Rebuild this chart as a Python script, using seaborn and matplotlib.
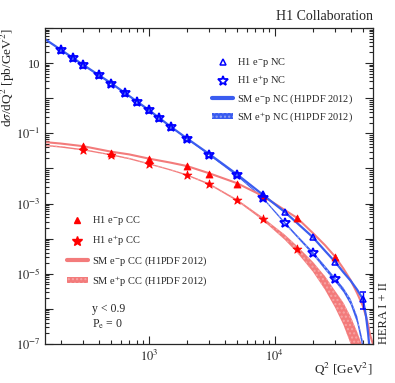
import numpy as np
import pandas as pd
import matplotlib
matplotlib.use("Agg")
import matplotlib.pyplot as plt
import seaborn as sns
from matplotlib.lines import Line2D
from matplotlib.patches import Patch
from matplotlib.ticker import FixedLocator, LogLocator, NullFormatter, FuncFormatter

# H1 data points, Q2 in GeV^2, dsigma/dQ2 in pb/GeV^2
q2_nc = [200, 250, 300, 400, 500, 650, 800, 1000, 1200, 1500, 2000, 3000, 5000, 8000, 12000, 20000, 30000]
nc_ep_minus = [23.8, 13.8, 8.9, 4.55, 2.66, 1.38, 0.79, 0.46, 0.28, 0.153, 0.072, 0.026, 0.0068, 1.85e-3, 5.8e-4, 1.1e-4, 2.2e-5]
nc_ep_plus = [23.5, 13.6, 8.8, 4.5, 2.6, 1.36, 0.78, 0.45, 0.27, 0.150, 0.070, 0.0246, 0.0063, 1.45e-3, 2.8e-4, 3.9e-5, 6.9e-6]
q2_nc_last = [50000]
nc_ep_minus_last = [1.9e-6]
nc_ep_minus_last_lo = [0.9e-6]
nc_ep_minus_last_hi = [1.2e-6]

q2_cc_minus = [300, 500, 1000, 2000, 3000, 5000, 8000, 15000, 30000]
cc_ep_minus = [0.0425, 0.028, 0.019, 0.0116, 0.0071, 3.66e-3, 1.6e-3, 3.8e-4, 3.06e-5]
q2_cc_plus = [300, 500, 1000, 2000, 3000, 5000, 8000, 15000]
cc_ep_plus = [0.034, 0.024, 0.0133, 6.3e-3, 3.5e-3, 1.22e-3, 3.65e-4, 4.9e-5]

# SM (H1PDF 2012) predictions
q2_sm = [150, 200, 300, 500, 700, 1000, 1500, 2000, 3000, 5000, 8000, 12000, 15000, 20000,
         25000, 30000, 35000, 40000, 45000, 50000, 53000, 55000, 57000, 60000]
sm_nc_minus = [48, 24, 9.0, 2.7, 1.15, 0.46, 0.152, 0.072, 0.026, 0.0068, 1.8e-3, 5.7e-4, 2.8e-4, 1.1e-4,
               4.5e-5, 2.2e-5, 1.1e-5, 6.3e-6, 3.5e-6, 1.9e-6, 6e-7, 2e-7, 5e-8, 1e-8]
sm_nc_plus_hi = [50, 24.5, 9.0, 2.72, 1.15, 0.462, 0.153, 0.072, 0.0253, 0.0066, 1.53e-3, 3.0e-4, 1.27e-4, 4.3e-5,
                 1.7e-5, 7.8e-6, 4.0e-6, 1.9e-6, 6.2e-7, 1.2e-7, 3e-8, 1e-8, 1e-8, 1e-8]
sm_nc_plus_lo = [46, 23.2, 8.6, 2.58, 1.09, 0.438, 0.145, 0.068, 0.0237, 0.0060, 1.38e-3, 2.6e-4, 1.08e-4, 3.5e-5,
                 1.3e-5, 6.0e-6, 3.0e-6, 1.3e-6, 4e-7, 7e-8, 2e-8, 1e-8, 1e-8, 1e-8]
sm_cc_minus = [0.056, 0.051, 0.043, 0.030, 0.025, 0.019, 0.0145, 0.0117, 0.0073, 3.8e-3, 1.65e-3, 6.5e-4, 3.9e-4, 1.45e-4,
               6.5e-5, 3.1e-5, 1.4e-5, 6.5e-6, 2.8e-6, 1.2e-6, 6e-7, 3.5e-7, 1.8e-7, 1e-7]
sm_cc_plus_hi = [0.047, 0.043, 0.0355, 0.0256, 0.0199, 0.0141, 0.0094, 0.0068, 0.0038, 1.33e-3, 4.05e-4, 1.3e-4, 6.2e-5, 2.2e-5,
                 8.5e-6, 3.3e-6, 1.5e-6, 6e-7, 2.2e-7, 8e-8, 3e-8, 1e-8, 1e-8, 1e-8]
sm_cc_plus_lo = [0.043, 0.039, 0.0325, 0.0234, 0.0181, 0.0129, 0.0086, 0.0062, 0.0034, 1.17e-3, 3.35e-4, 9.2e-5, 4.0e-5, 1.15e-5,
                 3.5e-6, 1.1e-6, 3.5e-7, 1e-7, 3e-8, 1e-8, 1e-8, 1e-8, 1e-8, 1e-8]

blue = "#0000ff"
blue_line = "#3a5cf0"
red = "#ff0000"
red_line = "#f37b7b"

sns.set_style("ticks")
plt.rcParams["font.family"] = ["Liberation Serif", "DejaVu Serif"]
plt.rcParams["mathtext.fontset"] = "stix"

fig = plt.figure(figsize=(3.95, 3.83), dpi=100)
ax = fig.add_axes([0.114, 0.102, 0.830, 0.825])
ax.set_xscale("log")
ax.set_yscale("log")

df_sm = pd.DataFrame({"q2": q2_sm, "nc_m": sm_nc_minus, "cc_m": sm_cc_minus})

# SM bands for e+p and lines for e-p
ax.fill_between(q2_sm, sm_cc_plus_lo, sm_cc_plus_hi, facecolor=red_line, edgecolor="#f7a5a5",
                hatch="....", linewidth=0, zorder=2)
ax.fill_between(q2_sm, sm_nc_plus_lo, sm_nc_plus_hi, facecolor=blue_line, edgecolor="#8fa2f5",
                hatch="....", linewidth=0, zorder=2)
sns.lineplot(data=df_sm, x="q2", y="cc_m", color=red_line, lw=1.5, ax=ax, zorder=2)
sns.lineplot(data=df_sm, x="q2", y="nc_m", color=blue_line, lw=1.6, ax=ax, zorder=2)

# data points
sns.scatterplot(x=q2_cc_minus, y=cc_ep_minus, marker="^", s=26, color=red, edgecolor=red,
                linewidth=0.5, ax=ax, zorder=4)
sns.scatterplot(x=q2_cc_plus, y=cc_ep_plus, marker="*", s=45, color=red, edgecolor=red,
                linewidth=0.5, ax=ax, zorder=4)
ax.plot(q2_nc, nc_ep_plus, ls="none", marker="*", ms=7, mfc="none", mec=blue, mew=1.3, zorder=5)
ax.plot(q2_nc, nc_ep_minus, ls="none", marker="^", ms=5, mfc="none", mec=blue, mew=1.1, zorder=5)
ax.errorbar(q2_nc_last, nc_ep_minus_last, yerr=[nc_ep_minus_last_lo, nc_ep_minus_last_hi], fmt="^",
            ms=5, mfc="none", mec=blue, mew=1.1, ecolor=blue, elinewidth=1, capsize=2, zorder=5)

ax.set_xlim(150, 60000)
ax.set_ylim(1e-7, 1e2)

ax.xaxis.set_major_locator(FixedLocator([1e2, 1e3, 1e4, 1e5]))
ax.xaxis.set_minor_locator(LogLocator(base=10, subs=np.arange(2, 10), numticks=20))
ax.xaxis.set_minor_formatter(NullFormatter())
ax.xaxis.set_major_formatter(FuncFormatter(lambda v, p: r"$10^{%d}$" % round(np.log10(v))))

ax.yaxis.set_major_locator(FixedLocator([10.0 ** k for k in range(-7, 3)]))
ax.yaxis.set_minor_locator(LogLocator(base=10, subs=np.arange(2, 10), numticks=30))
ax.yaxis.set_minor_formatter(NullFormatter())


def ylab(v, p):
    k = int(round(np.log10(v)))
    if k == 1:
        return "10"
    if k % 2 == 1 and k < 0:
        return r"$10^{%d}$" % k
    return ""


ax.yaxis.set_major_formatter(FuncFormatter(ylab))
ax.tick_params(which="both", direction="in", top=True, right=True, labelsize=9, width=0.8)
ax.tick_params(which="major", length=6)
ax.tick_params(which="minor", length=3)
for s in ax.spines.values():
    s.set_linewidth(0.9)

ax.set_xlabel(r"Q$^2$ [GeV$^2$]", loc="right", fontsize=9.5)
ax.xaxis.set_label_coords(1.0, -0.055)
ax.set_ylabel(r"d$\sigma$/dQ$^2$ [pb/GeV$^2$]", loc="top", fontsize=9.5)
ax.yaxis.set_label_coords(-0.085, 1.0)
ax.text(1.0, 1.015, "H1 Collaboration", transform=ax.transAxes, ha="right", va="bottom", fontsize=10)
ax.text(1.015, 0.0, "HERA I + II", transform=ax.transAxes, rotation=90, ha="left", va="bottom", fontsize=9)
ax.text(0.143, 0.111, "y < 0.9", transform=ax.transAxes, va="center", fontsize=8.5)
ax.text(0.143, 0.063, r"P$_{\rm e}$ = 0", transform=ax.transAxes, va="center", fontsize=8.5)

nc_handles = [
    Line2D([], [], ls="none", marker="^", ms=5, mfc="none", mec=blue, mew=1.1),
    Line2D([], [], ls="none", marker="*", ms=7, mfc="none", mec=blue, mew=1.3),
    Line2D([], [], color=blue_line, lw=3),
    Patch(facecolor=blue_line, edgecolor="#8fa2f5", hatch="....", linewidth=0),
]
nc_labels = [r"H1 e$^{-}$p NC", r"H1 e$^{+}$p NC", r"SM e$^{-}$p NC (H1PDF 2012)", r"SM e$^{+}$p NC (H1PDF 2012)"]
leg1 = ax.legend(nc_handles, nc_labels, loc="upper left", bbox_to_anchor=(0.51, 0.91), frameon=False,
                 fontsize=7.5, handlelength=2.0, handleheight=0.5, handletextpad=0.4, labelspacing=0.42,
                 borderpad=0, borderaxespad=0)
ax.add_artist(leg1)

cc_handles = [
    Line2D([], [], ls="none", marker="^", ms=5, color=red),
    Line2D([], [], ls="none", marker="*", ms=7, color=red),
    Line2D([], [], color=red_line, lw=3),
    Patch(facecolor=red_line, edgecolor="#f7a5a5", hatch="....", linewidth=0),
]
cc_labels = [r"H1 e$^{-}$p CC", r"H1 e$^{+}$p CC", r"SM e$^{-}$p CC (H1PDF 2012)", r"SM e$^{+}$p CC (H1PDF 2012)"]
ax.legend(cc_handles, cc_labels, loc="upper left", bbox_to_anchor=(0.067, 0.41), frameon=False,
          fontsize=7.5, handlelength=2.0, handleheight=0.5, handletextpad=0.4, labelspacing=0.6,
          borderpad=0, borderaxespad=0)

fig.savefig("out.png", dpi=100)
